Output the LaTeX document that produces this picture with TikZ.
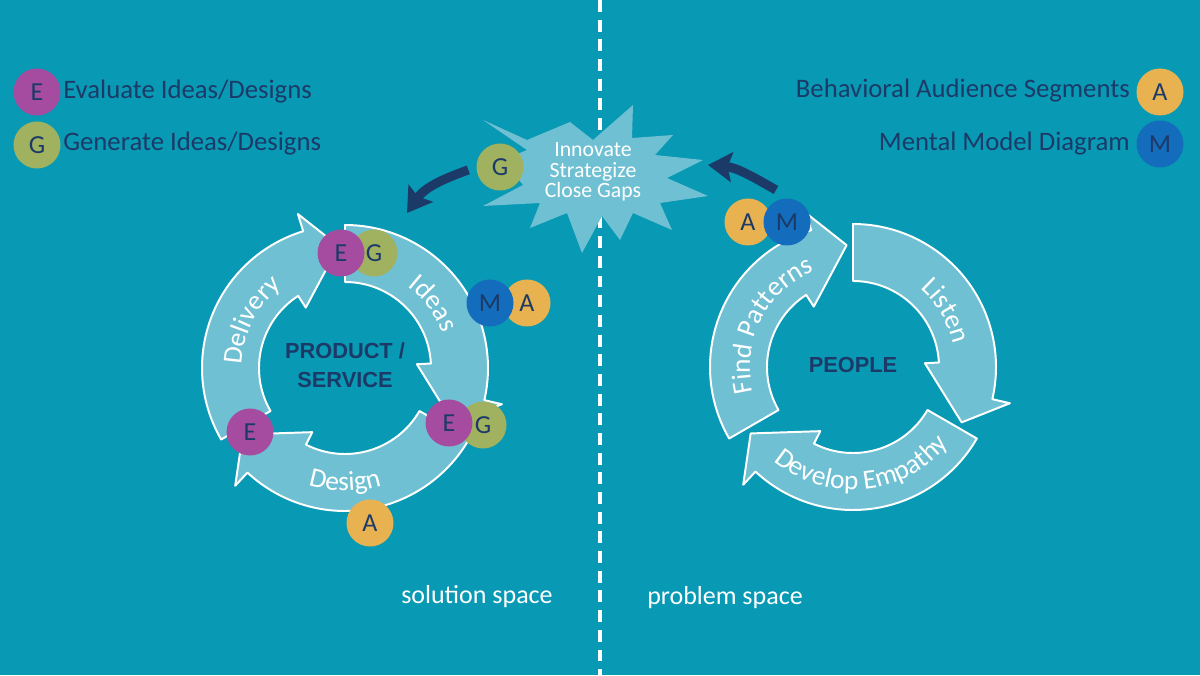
\documentclass[tikz,border=0pt]{standalone}
\usepackage{fontspec}
\setmainfont{Carlito}
\newfontfamily\boldsans{Liberation Sans}
\usetikzlibrary{arrows.meta, decorations.text}

\definecolor{sea}{RGB}{8,153,180}
\definecolor{ringblue}{RGB}{112,192,212}
\definecolor{navy}{RGB}{28,58,104}
\definecolor{evalpurple}{RGB}{166,76,160}
\definecolor{genolive}{RGB}{160,178,96}
\definecolor{audorange}{RGB}{232,178,80}
\definecolor{modelblue}{RGB}{20,108,188}

\newcommand{\arcfont}{\fontsize{19.5}{22}\selectfont}

\begin{document}
\begin{tikzpicture}[x=0.25mm, y=0.25mm,
  badge/.style={circle, inner sep=0pt, minimum size=11.75mm, text=navy, font=\fontsize{18.5}{20}\selectfont},
  ringarrow/.style={fill=ringblue, draw=white, line width=1.4pt, line join=round},
  arclabel/.style={decorate, decoration={text along path, text align=center, text color=white}},
  legendtext/.style={text=navy, inner sep=0pt, font=\fontsize{19}{22}\selectfont},
  spacelabel/.style={text=white, font=\fontsize{18.5}{22}\selectfont},
  hub/.style={text=navy, align=center, font=\boldsans\bfseries\fontsize{15.5}{21}\selectfont},
  loopback/.style={navy, line width=6.5pt, -{Stealth[length=17pt, width=21pt, inset=3pt]}}]
  % background and divider
  \fill[sea] (0,0) rectangle (1200,675);
  \useasboundingbox (0,0) rectangle (1200,675);
  \draw[white, line width=2.2pt, dash pattern=on 8.5pt off 5.5pt] (600,675) -- (600,0);
  % burst
  \fill[ringblue] (483,555) -- (527,535) -- (570,553) -- (593,535) -- (633,570) -- (632,537)
    -- (673,540) -- (655,520) -- (703,515) -- (667,497) -- (708,479) -- (660,472)
    -- (672,445) -- (633,462) -- (620,435) -- (602,459) -- (582,422) -- (567,462)
    -- (530,447) -- (540,472) -- (483,469) -- (523,490) -- (503,515) -- (527,525) -- cycle;
  \node[text=white, align=center, font=\fontsize{15.5}{14.5}\selectfont] (burst) at (593,503)
    {Innovate\\Strategize\\Close Gaps};
  % cycles
  \foreach \cx/\cy in {345/307, 853/308}
    \foreach \t in {90,-30,210} {
      \pgfmathsetmacro\outang{\t-103}
      \pgfmathsetmacro\inang{\t-87}
      \pgfmathsetmacro\tipang{\t-117}
      \draw[ringarrow, shift={(\cx,\cy)}] (\t:86) -- (\t:143)
        arc[start angle=\t, end angle=\outang, radius=143] -- (\outang:161) -- (\tipang:122)
        -- (\inang:72) -- (\inang:86) arc[start angle=\inang, end angle=\t, radius=86] -- cycle;
    }
  % arc labels
  \path[arclabel, shift={(345,307)}, decoration={text={|\arcfont|Delivery}}]
    (200:103) arc[start angle=200, end angle=106, radius=103];
  \path[arclabel, shift={(345,307)}, decoration={text={|\arcfont|Ideas}}]
    (80:103) arc[start angle=80, end angle=-8, radius=103];
  \path[arclabel, shift={(345,307)}, decoration={text={|\arcfont|Design}}]
    (225:123) arc[start angle=225, end angle=315, radius=123];
  \path[arclabel, shift={(853,308)}, decoration={text={|\arcfont|Find Patterns}}]
    (202:103) arc[start angle=202, end angle=104, radius=103];
  \path[arclabel, shift={(853,308)}, decoration={text={|\arcfont|Listen}}]
    (75:103) arc[start angle=75, end angle=-13, radius=103];
  \path[arclabel, shift={(853,308)}, decoration={text={|\arcfont|Develop Empathy}}]
    (226:123) arc[start angle=226, end angle=325, radius=123];
  \node[hub] (product) at (345,310) {PRODUCT /\\SERVICE};
  \node[hub] (people) at (853,310) {PEOPLE};
  % badges on the cycles
  \node[badge, fill=genolive] (g1) at (374,422) {G};
  \node[badge, fill=evalpurple] (e1) at (341,422) {E};
  \node[badge, fill=audorange] (a1) at (527,372) {A};
  \node[badge, fill=modelblue] (m1) at (490,372) {M};
  \node[badge, fill=genolive] (g2) at (483,250) {G};
  \node[badge, fill=evalpurple] (e2) at (449,252) {E};
  \node[badge, fill=evalpurple] (e3) at (250,243) {E};
  \node[badge, fill=audorange] (a2) at (370,152) {A};
  \node[badge, fill=audorange] (a3) at (748,453) {A};
  \node[badge, fill=modelblue] (m3) at (787,453) {M};
  \node[badge, fill=genolive] (gs) at (500,508) {G};
  % arrows round the burst
  \coordinate (intoProduct) at (407,462);
  \coordinate (fromPeople) at (776,485);
  \coordinate (intoBurst) at (708,510);
  \draw[loopback, shorten <=6pt] (gs.west) to[out=200, in=55] (intoProduct);
  \draw[loopback] (fromPeople) to[out=150, in=-5] (intoBurst);
  % legends
  \node[badge, fill=evalpurple] (le) at (37,583) {E};
  \node[badge, fill=genolive] (lg) at (37,530) {G};
  \node[legendtext, anchor=west] (levaluate) at (63,583) {Evaluate Ideas/Designs};
  \node[legendtext, anchor=west] (lgenerate) at (63,531) {Generate Ideas/Designs};
  \node[badge, fill=audorange] (la) at (1160,583) {A};
  \node[badge, fill=modelblue] (lm) at (1160,531) {M};
  \node[legendtext, anchor=east] (laudience) at (1130,584) {Behavioral Audience Segments};
  \node[legendtext, anchor=east] (lmodel) at (1130,531) {Mental Model Diagram};
  % spaces
  \node[spacelabel] (solution) at (477,78) {solution space};
  \node[spacelabel] (problem) at (725,77) {problem space};
\end{tikzpicture}
\end{document}
